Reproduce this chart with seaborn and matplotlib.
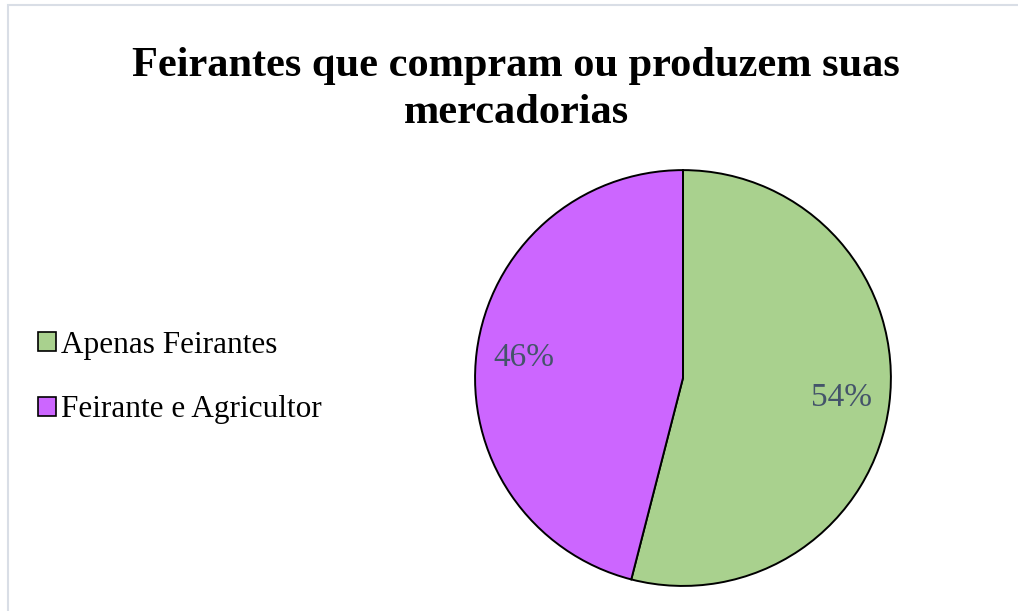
import matplotlib.pyplot as plt
import seaborn as sns
from matplotlib.patches import Patch, Rectangle

# Data
categories = ["Apenas Feirantes", "Feirante e Agricultor"]
shares = [54, 46]
colors = ["#A9D18E", "#CC66FF"]
title = "Feirantes que compram ou produzem suas\nmercadorias"

sns.set_theme(style="white")
plt.rcParams['font.family'] = ['Liberation Serif', 'DejaVu Serif']
plt.rcParams['text.color'] = 'black'

fig = plt.figure(figsize=(10.18, 6.11), dpi=100)

# light chart border (runs off right/bottom edges)
fig.patches.append(Rectangle((7.5 / 1018, -0.05), 1.2, (611 - 5.5) / 611 + 0.05,
                             transform=fig.transFigure, fill=False,
                             edgecolor="#D9DEE6", linewidth=1.5))

ax = fig.add_axes([0.4646, 0.0376, 0.4126, 0.6874])
wedges, texts, autotexts = ax.pie(
    shares, colors=colors, startangle=90, counterclock=False,
    autopct="%d%%", pctdistance=0.77,
    wedgeprops=dict(edgecolor="black", linewidth=1.4),
    textprops=dict(color="#44546A", fontsize=24),
)
ax.set_xlim(-1.01, 1.01)
ax.set_ylim(-1.01, 1.01)
ax.set_aspect("equal")
ax.axis("off")

fig.text(0.507, 1 - 47 / 611, title, ha="center", va="top",
         fontsize=30.5, fontweight="bold", color="black", linespacing=1.32)

handles = [Patch(facecolor=c, edgecolor="black", linewidth=1.2) for c in colors]
fig.legend(handles, categories, loc="center left",
           bbox_to_anchor=(38 / 1018, (611 - 377.5) / 611),
           bbox_transform=fig.transFigure, frameon=False,
           fontsize=22.5, handlelength=0.58, handleheight=0.58,
           handletextpad=0.15, labelspacing=1.15, borderpad=0, borderaxespad=0,
           labelcolor="black")

fig.savefig("out.png", dpi=100)
